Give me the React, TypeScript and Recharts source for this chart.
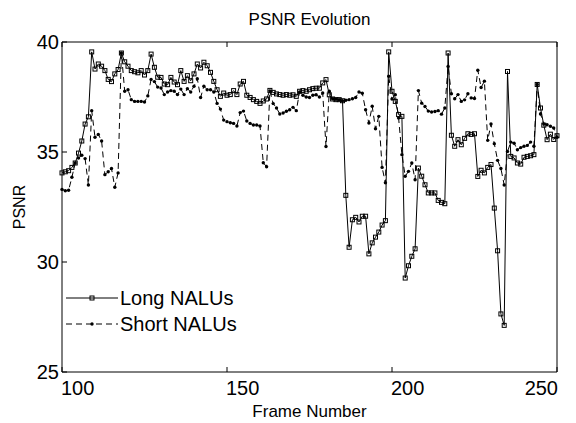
import { Legend, Line, LineChart, XAxis, YAxis } from "recharts";

// frames 100..250, one value per frame
const firstFrame = 100;

const longNalus = [
  34.05, 34.1, 34.15, 34.3, 34.5, 34.95, 35.5, 36.27, 36.6, 39.55,
  38.77, 39.0, 38.9, 38.7, 38.3, 38.2, 38.55, 38.75, 39.5, 39.1,
  38.9, 38.7, 38.65, 38.6, 38.7, 38.5, 38.7, 39.45, 38.85, 38.4,
  38.39, 38.09, 38.06, 38.39, 38.18, 38.06, 38.7, 38.21, 38.47, 38.24,
  38.55, 39.0, 38.82, 39.08, 38.92, 38.62, 38.21, 37.83, 37.53, 37.68,
  37.58, 37.61, 37.79, 37.61, 38.09, 38.21, 37.58, 37.48, 37.38, 37.3,
  37.21, 37.32, 37.41, 37.8, 37.71, 37.64, 37.61, 37.58, 37.61, 37.58,
  37.6, 37.53, 37.76, 37.79, 37.76, 37.83, 37.88, 37.9, 37.9, 38.14,
  38.29, 37.6, 37.41, 37.38, 37.38, 37.33, 33.03, 30.67, 31.92, 32.03,
  31.82, 32.08, 32.08, 30.37, 30.87, 31.13, 31.36, 31.68, 31.88, 39.55,
  37.76, 37.3, 36.7, 36.62, 29.27, 29.83, 30.26, 30.6, 34.27, 33.9,
  33.51, 33.14, 33.14, 33.14, 32.8, 32.71, 32.65, 39.5, 35.76, 35.26,
  35.56, 35.33, 35.62, 35.83, 35.8, 35.83, 33.89, 34.17, 34.05, 34.3,
  34.43, 32.45, 30.51, 27.64, 27.12, 38.66, 34.8, 34.73, 34.5, 34.45,
  34.76, 34.8, 34.83, 34.88, 38.07, 37.0, 36.22, 35.56, 35.81, 35.57,
  35.74,
];

const shortNalus = [
  33.3, 33.24, 33.26, 33.85, 34.5, 34.73, 34.85, 34.7, 33.5, 36.88,
  35.67, 35.8, 35.5, 33.97, 34.1, 34.25, 33.4, 34.05, 39.5, 37.76,
  37.83, 37.38, 37.3, 37.3, 37.3, 37.27, 37.55, 38.3, 38.2, 37.95,
  37.91, 37.61, 37.73, 37.79, 37.76, 37.61, 37.86, 37.61, 37.88, 37.73,
  37.99, 38.33, 37.48, 37.99, 37.83, 37.83, 37.73, 37.21, 36.95, 36.45,
  36.38, 36.33, 36.3, 36.18, 36.79, 36.86, 36.41, 36.3, 36.23, 36.23,
  36.18, 34.51, 34.33, 37.78, 37.2, 37.0, 36.73, 36.77, 36.85, 36.92,
  37.03, 36.88, 37.73, 37.58, 37.5, 37.48, 37.58, 37.6, 37.5, 37.68,
  35.25, 37.76, 37.42, 37.4, 37.38, 37.33, 37.35, 37.38, 37.42, 37.48,
  37.73, 37.67, 36.92, 36.32, 37.08, 36.06, 36.62, 34.3, 33.6, 38.44,
  37.41, 37.6, 36.55, 34.88, 33.9, 34.12, 34.5, 33.74, 37.79, 37.22,
  37.07, 36.86, 36.82, 36.84, 36.88, 36.72, 37.0, 38.89, 37.65, 37.42,
  37.61, 37.3, 37.37, 37.65, 37.46, 37.43, 38.72, 37.93, 38.22, 35.53,
  36.27, 35.38, 34.62, 34.25, 33.5, 35.02, 35.45, 35.4, 35.1, 35.2,
  35.26, 35.3, 35.45, 35.26, 38.07, 36.73, 36.27, 36.24, 36.17, 36.09,
  35.67,
];

const xTicks = [100, 150, 200, 250];
const yTicks = [25, 30, 35, 40];

const data = longNalus.map((v, i) => ({
  frame: firstFrame + i,
  long: v,
  short: shortNalus[i],
}));

const FONT = "'Liberation Sans', Arial, Helvetica, sans-serif";
const TICK_LEN = 5;

const BottomTick = ({ x, y, payload, index, visibleTicksCount }: any) => {
  const last = index === visibleTicksCount - 1;
  return (
    <g>
      <line x1={x} y1={y} x2={x} y2={y - TICK_LEN} stroke="#000" />
      <text
        x={last ? x + 1 : x - 1}
        y={y + 23}
        textAnchor={last ? "end" : "start"}
        fontSize={20}
        fontFamily={FONT}
        fill="#000"
      >
        {payload.value}
      </text>
    </g>
  );
};

const TopTick = ({ x, y }: any) => (
  <line x1={x} y1={y} x2={x} y2={y + TICK_LEN} stroke="#000" />
);

const LeftTick = ({ x, y, payload }: any) => (
  <g>
    <line x1={x} y1={y} x2={x + TICK_LEN} y2={y} stroke="#000" />
    <text x={x - 3} y={y + 7} textAnchor="end" fontSize={20} fontFamily={FONT} fill="#000">
      {payload.value}
    </text>
  </g>
);

const RightTick = ({ x, y }: any) => (
  <line x1={x} y1={y} x2={x - TICK_LEN} y2={y} stroke="#000" />
);

const SquareDot = ({ cx, cy, index }: any) => (
  <rect key={`sq-${index}`} x={cx - 2} y={cy - 2} width={4} height={4} fill="none" stroke="#000" strokeWidth={1} />
);

const RoundDot = ({ cx, cy, index }: any) => (
  <circle key={`dt-${index}`} cx={cx} cy={cy} r={1.7} fill="#000" />
);

const YLabel = ({ viewBox }: any) => {
  const cx = viewBox.x + 3;
  const cy = viewBox.y + viewBox.height / 2;
  return (
    <text x={cx} y={cy} transform={`rotate(-90, ${cx}, ${cy})`} textAnchor="middle" fontSize={16} fontFamily={FONT} fill="#000">
      PSNR
    </text>
  );
};

const LegendBox = () => (
  <svg width={220} height={52}>
    <line x1={0} y1={13} x2={52} y2={13} stroke="#000" />
    <rect x={24} y={11} width={4} height={4} fill="none" stroke="#000" />
    <text x={54} y={20} fontSize={20} fontFamily={FONT} fill="#000">Long NALUs</text>
    <line x1={0} y1={39} x2={52} y2={39} stroke="#000" strokeDasharray="6 4" />
    <circle cx={26} cy={39} r={1.7} fill="#000" />
    <text x={54} y={46} fontSize={20} fontFamily={FONT} fill="#000">Short NALUs</text>
  </svg>
);

export default function App() {
  return (
    <LineChart
      width={568}
      height={415}
      data={data}
      margin={{ top: 33, right: 18, bottom: 21, left: 14 }}
      style={{ fontFamily: FONT }}
    >
      <XAxis
        dataKey="frame"
        type="number"
        domain={[100, 250]}
        ticks={xTicks}
        height={30}
        axisLine={{ stroke: "#000" }}
        tickLine={false}
        tickSize={0}
        tickMargin={0}
        tick={<BottomTick />}
        label={{ value: "Frame Number", position: "bottom", offset: 3, fontSize: 17, fill: "#000" }}
      />
      <XAxis
        xAxisId="top"
        orientation="top"
        dataKey="frame"
        type="number"
        domain={[100, 250]}
        ticks={xTicks}
        height={1}
        axisLine={{ stroke: "#000" }}
        tickLine={false}
        tickSize={0}
        tickMargin={0}
        tick={<TopTick />}
        label={{ value: "PSNR Evolution", position: "top", offset: 16, fontSize: 17, fill: "#000" }}
      />
      <YAxis
        type="number"
        domain={[25, 40]}
        ticks={yTicks}
        width={40}
        axisLine={{ stroke: "#000" }}
        tickLine={false}
        tickSize={0}
        tickMargin={0}
        tick={<LeftTick />}
        label={<YLabel />}
      />
      <YAxis
        yAxisId="right"
        orientation="right"
        type="number"
        domain={[25, 40]}
        ticks={yTicks}
        width={1}
        axisLine={{ stroke: "#000" }}
        tickLine={false}
        tickSize={0}
        tickMargin={0}
        tick={<RightTick />}
      />
      <Legend
        layout="horizontal"
        verticalAlign="middle"
        align="center"
        content={() => <LegendBox />}
        wrapperStyle={{ left: 58, top: 277, width: 220, height: 52 }}
      />
      <Line
        type="linear"
        dataKey="long"
        name="Long NALUs"
        stroke="#000"
        strokeWidth={1}
        dot={<SquareDot />}
        activeDot={false}
        isAnimationActive={false}
      />
      <Line
        type="linear"
        dataKey="short"
        name="Short NALUs"
        stroke="#000"
        strokeWidth={1}
        strokeDasharray="6 4"
        dot={<RoundDot />}
        activeDot={false}
        isAnimationActive={false}
      />
    </LineChart>
  );
}
